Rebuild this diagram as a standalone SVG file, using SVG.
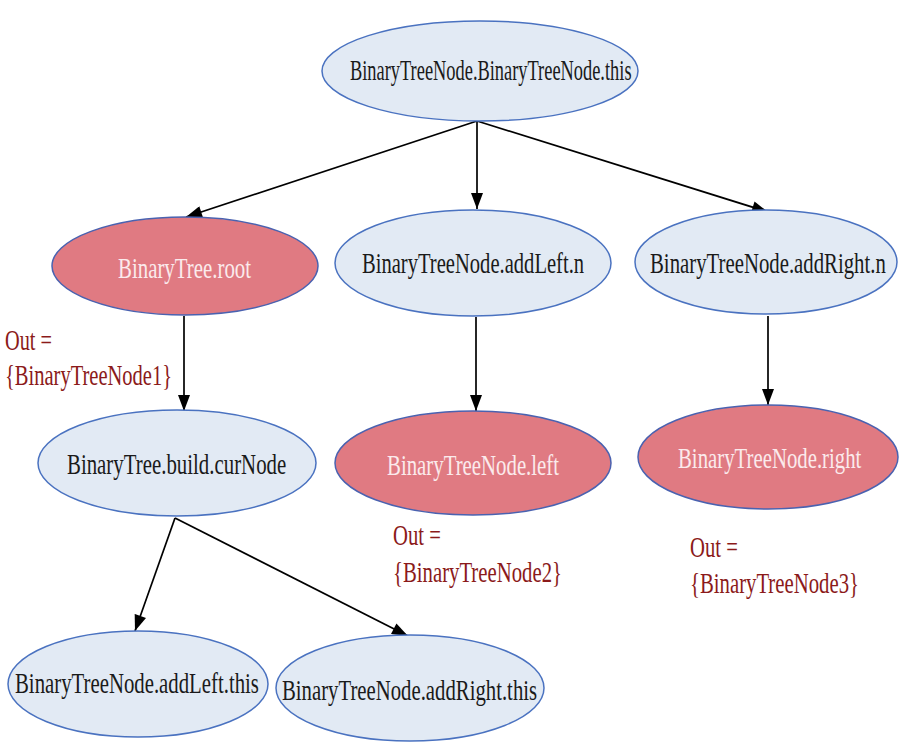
<svg xmlns="http://www.w3.org/2000/svg" width="900" height="743" viewBox="0 0 900 743">
  <defs>
    <marker id="arrow" viewBox="0 0 16 12" refX="16" refY="6" markerWidth="17" markerHeight="12" markerUnits="userSpaceOnUse" orient="auto">
      <path d="M0,0 L16,6 L0,12 Z" fill="#000"/>
    </marker>
    <style>
      .plain ellipse { fill: #e2eaf4; stroke: #4a72c0; stroke-width: 1.5; }
      .hot ellipse { fill: #e07a82; stroke: #4a62b0; stroke-width: 1.5; }
      text { font-family: "Liberation Serif", "Times New Roman", serif; font-size: 30px; }
      .plain text { fill: #1a1a1a; }
      .hot text { fill: #fbeaec; }
      .out { fill: #8b1a1a; }
      #edges line { stroke: #000; stroke-width: 1.7; marker-end: url(#arrow); }
    </style>
  </defs>

  <g id="edges">
    <line x1="477" y1="121" x2="186" y2="217"/>
    <line x1="477" y1="121" x2="477" y2="209"/>
    <line x1="477" y1="121" x2="768" y2="212"/>
    <line x1="184" y1="316" x2="184" y2="411"/>
    <line x1="476" y1="317" x2="476" y2="411"/>
    <line x1="768" y1="316" x2="768" y2="405"/>
    <line x1="175" y1="518" x2="135" y2="631"/>
    <line x1="175" y1="518" x2="408" y2="636"/>
  </g>

  <!-- labels are set in a narrowed serif: each text is squeezed horizontally -->
  <g id="node-this" class="plain">
    <ellipse cx="480" cy="71" rx="158" ry="50"/>
    <text transform="translate(350,80) scale(0.613,1)">BinaryTreeNode.BinaryTreeNode.this</text>
  </g>

  <g id="node-root" class="hot">
    <ellipse cx="185" cy="266" rx="133" ry="49"/>
    <text transform="translate(118,278) scale(0.696,1)">BinaryTree.root</text>
  </g>

  <g id="node-addLeft-n" class="plain">
    <ellipse cx="473" cy="263" rx="138" ry="53"/>
    <text transform="translate(362,273) scale(0.686,1)">BinaryTreeNode.addLeft.n</text>
  </g>

  <g id="node-addRight-n" class="plain">
    <ellipse cx="766" cy="262" rx="131" ry="52"/>
    <text transform="translate(650,273) scale(0.693,1)">BinaryTreeNode.addRight.n</text>
  </g>

  <g id="node-curNode" class="plain">
    <ellipse cx="177" cy="463" rx="139" ry="53"/>
    <text transform="translate(67,474) scale(0.695,1)">BinaryTree.build.curNode</text>
  </g>

  <g id="node-left" class="hot">
    <ellipse cx="473" cy="463" rx="138" ry="52"/>
    <text transform="translate(387,475) scale(0.694,1)">BinaryTreeNode.left</text>
  </g>

  <g id="node-right" class="hot">
    <ellipse cx="768" cy="457" rx="130" ry="52"/>
    <text transform="translate(678,468) scale(0.693,1)">BinaryTreeNode.right</text>
  </g>

  <g id="node-addLeft-this" class="plain">
    <ellipse cx="138" cy="684" rx="130" ry="53"/>
    <text transform="translate(15,693) scale(0.693,1)">BinaryTreeNode.addLeft.this</text>
  </g>

  <g id="node-addRight-this" class="plain">
    <ellipse cx="410" cy="688" rx="134" ry="53"/>
    <text transform="translate(282,700) scale(0.692,1)">BinaryTreeNode.addRight.this</text>
  </g>

  <g id="out-labels">
    <text class="out" transform="translate(5,350) scale(0.677,1)">Out =</text>
    <text class="out" transform="translate(5,385) scale(0.684,1)">{BinaryTreeNode1}</text>
    <text class="out" transform="translate(393,545) scale(0.69,1)">Out =</text>
    <text class="out" transform="translate(393,582) scale(0.692,1)">{BinaryTreeNode2}</text>
    <text class="out" transform="translate(690,557) scale(0.69,1)">Out =</text>
    <text class="out" transform="translate(690,593) scale(0.692,1)">{BinaryTreeNode3}</text>
  </g>
</svg>
